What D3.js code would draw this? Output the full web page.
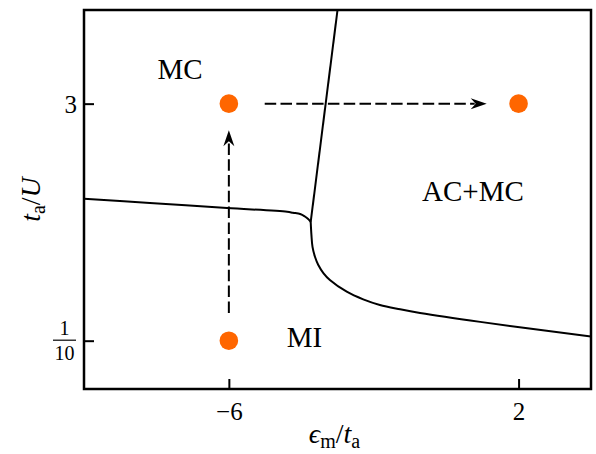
<!DOCTYPE html>
<html>
<head>
<meta charset="utf-8">
<script src="https://cdn.jsdelivr.net/npm/d3@7"></script>
<style>
  body { margin: 0; background: #fff; }
  svg { display: block; }
  text { font-family: "Liberation Serif", "DejaVu Serif", serif; fill: #000; }
</style>
</head>
<body>
<svg id="chart" width="596" height="454"></svg>
<script>
// Axis ranges and ticks
const xDomain = [-10, 4];
const yDomain = [0.05, 11.5];
const xTicks = [-6, 2];
const xTickLabels = ["\u22126", "2"];
const yTicks = [3, 0.1];

// Phase boundaries (epsilon_m/t_a, t_a/U)
const boundaryMCtoMI = [[-10, 0.767], [-8.18, 0.721], [-6.05, 0.671], [-4.39, 0.636], [-4.23, 0.627],
  [-4.03, 0.616], [-3.90, 0.594], [-3.81, 0.573], [-3.74, 0.55]];
const boundaryMCtoAC = [[-3.74, 0.55], [-3.0, 11.5]];
const boundaryMItoAC = [[-3.74, 0.55], [-3.72, 0.456], [-3.69, 0.384], [-3.62, 0.332], [-3.53, 0.296],
  [-3.39, 0.264], [-3.21, 0.239], [-2.745, 0.202], [-2.29, 0.181], [-1.83, 0.167], [-1.27, 0.157],
  [-0.72, 0.149], [0.94, 0.131], [4.0, 0.106]];

// Parameter points studied
const statePoints = [[-6, 3], [2, 3], [-6, 0.1]];

// Quench paths between parameter points
const quenchArrows = [
  { from: [-5.01, 3], to: [1.12, 3] },
  { from: [-6, 0.149], to: [-6, 2.05] }
];

// Phase names
const regionLabels = [
  { text: "MC", x: -7.35, y: 4.30 },
  { text: "AC+MC", x: 0.74, y: 0.742 },
  { text: "MI", x: -3.91, y: 0.0918 }
];

const margin = { left: 84, top: 10, right: 5, bottom: 65 };
const W = 596, H = 454;
const innerW = W - margin.left - margin.right;
const innerH = H - margin.top - margin.bottom;

const svg = d3.select("#chart");
const g = svg.append("g").attr("transform", `translate(${margin.left},${margin.top})`);

const x = d3.scaleLinear().domain(xDomain).range([0, innerW]);
const y = d3.scaleLog().domain(yDomain).range([innerH, 0]);

g.append("defs").append("clipPath").attr("id", "plotArea")
  .append("rect").attr("width", innerW).attr("height", innerH);

const line = d3.line().x(d => x(d[0])).y(d => y(d[1])).curve(d3.curveCatmullRom.alpha(0.5));

const curves = g.append("g").attr("clip-path", "url(#plotArea)");
[boundaryMCtoMI, boundaryMCtoAC, boundaryMItoAC].forEach(b => {
  curves.append("path").datum(b).attr("d", line)
    .attr("fill", "none").attr("stroke", "#000").attr("stroke-width", 2);
});

// Dashed arrows
const arrowHead = (x1, y1, x2, y2) => {
  const a = Math.atan2(y2 - y1, x2 - x1);
  const c = Math.cos(a), s = Math.sin(a);
  const pt = (u, v) => [x2 + u * c - v * s, y2 + u * s + v * c];
  const p = [pt(0, 0), pt(-16, -5.5), pt(-11, 0), pt(-16, 5.5)];
  return "M" + p.map(q => q.join(",")).join("L") + "Z";
};
quenchArrows.forEach(a => {
  const x1 = x(a.from[0]), y1 = y(a.from[1]), x2 = x(a.to[0]), y2 = y(a.to[1]);
  const len = Math.hypot(x2 - x1, y2 - y1);
  const ux = (x2 - x1) / len, uy = (y2 - y1) / len;
  g.append("line")
    .attr("x1", x1).attr("y1", y1)
    .attr("x2", x2 - ux * 12).attr("y2", y2 - uy * 12)
    .attr("stroke", "#000").attr("stroke-width", 2)
    .attr("stroke-dasharray", "11.5,4.3");
  g.append("path").attr("d", arrowHead(x1, y1, x2, y2)).attr("fill", "#000");
});

// Points
g.selectAll("circle.pt").data(statePoints).join("circle")
  .attr("class", "pt")
  .attr("cx", d => x(d[0])).attr("cy", d => y(d[1])).attr("r", 9.3)
  .attr("fill", "#ff6600");

// Region labels
g.selectAll("text.region").data(regionLabels).join("text")
  .attr("class", "region")
  .attr("x", d => x(d.x)).attr("y", d => y(d.y))
  .attr("text-anchor", "middle")
  .style("font-size", "29px")
  .text(d => d.text);

// Axes with inward ticks
const xAxis = d3.axisBottom(x).tickValues(xTicks).tickSize(-10).tickPadding(13)
  .tickFormat((d, i) => xTickLabels[i]);
const gx = g.append("g").attr("transform", `translate(0,${innerH})`).call(xAxis);
gx.select(".domain").remove();
gx.selectAll(".tick line").attr("stroke", "#000").attr("stroke-width", 2);
gx.selectAll(".tick text").style("font-size", "25px").attr("dy", "0.71em");

const yAxis = d3.axisLeft(y).tickValues(yTicks).tickSize(-10).tickPadding(8).tickFormat("");
const gy = g.append("g").call(yAxis);
gy.select(".domain").remove();
gy.selectAll(".tick line").attr("stroke", "#000").attr("stroke-width", 2);

// y tick labels: integer and fraction
gy.selectAll(".tick").each(function (d) {
  const t = d3.select(this);
  if (d === 3) {
    t.append("text").attr("x", -7).attr("y", 0).attr("dy", "0.34em")
      .attr("text-anchor", "end").style("font-size", "25px").text("3");
  } else {
    t.append("text").attr("x", -19.5).attr("y", -6)
      .attr("text-anchor", "middle").style("font-size", "20px").text("1");
    t.append("line").attr("x1", -31).attr("x2", -8).attr("y1", -1).attr("y2", -1)
      .attr("stroke", "#000").attr("stroke-width", 1.2);
    t.append("text").attr("x", -19.5).attr("y", 19)
      .attr("text-anchor", "middle").style("font-size", "20px").text("10");
  }
});

// Frame
g.append("rect").attr("width", innerW).attr("height", innerH)
  .attr("fill", "none").attr("stroke", "#000").attr("stroke-width", 2.5);

// Axis titles
const xt = svg.append("text")
  .attr("x", margin.left + innerW / 2 - 3).attr("y", 443)
  .attr("text-anchor", "middle").style("font-size", "28px");
xt.append("tspan").style("font-style", "italic").text("\u03F5");
xt.append("tspan").attr("dy", 5).style("font-size", "20px").text("m");
xt.append("tspan").attr("dy", -5).text("/");
xt.append("tspan").style("font-style", "italic").text("t");
xt.append("tspan").attr("dy", 5).style("font-size", "20px").text("a");

const yt = svg.append("text")
  .attr("transform", `translate(40,${margin.top + innerH / 2}) rotate(-90)`)
  .attr("text-anchor", "middle").style("font-size", "28px");
yt.append("tspan").style("font-style", "italic").text("t");
yt.append("tspan").attr("dy", 5).style("font-size", "20px").text("a");
yt.append("tspan").attr("dy", -5).text("/");
yt.append("tspan").style("font-style", "italic").text("U");
</script>
</body>
</html>
